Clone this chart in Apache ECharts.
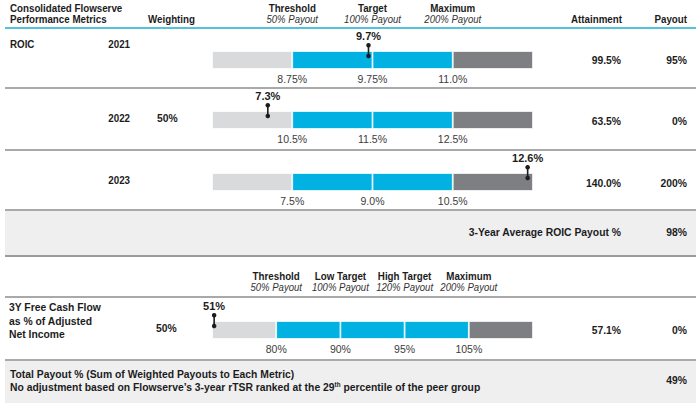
<!DOCTYPE html>
<html><head><meta charset="utf-8">
<script src="https://cdn.jsdelivr.net/npm/echarts@6/dist/echarts.min.js"></script>
<style>html,body{margin:0;padding:0;background:#fff}#c{width:700px;height:408px}</style>
</head><body><div id="c"></div>
<script>
// ---- data ----
const roicYears = ['2021', '2022', '2023'];
const roicThreshold = [8.75, 10.5, 7.5];
const roicTarget = [9.75, 11.5, 9.0];
const roicMaximum = [11.0, 12.5, 10.5];
const roicScaleMin = [7.75, 0, 6.0];
const roicScaleMax = [12.25, 13.5, 12.75];
const roicActual = [9.7, 7.3, 12.6];
const roicActualLabels = ['9.7%', '7.3%', '12.6%'];
const roicTickLabels = [['8.75%', '9.75%', '11.0%'], ['10.5%', '11.5%', '12.5%'], ['7.5%', '9.0%', '10.5%']];
const roicAttainment = ['99.5%', '63.5%', '140.0%'];
const roicPayout = ['95%', '0%', '200%'];
const roicWeighting = '50%';
const roicAvgPayout = '98%';

const fcfBreaks = [80, 90, 95, 105];
const fcfScaleMin = 50;
const fcfScaleMax = 115;
const fcfActual = 51;
const fcfActualLabel = '51%';
const fcfTickLabels = ['80%', '90%', '95%', '105%'];
const fcfAttainment = '57.1%';
const fcfPayout = '0%';
const fcfWeighting = '50%';
const totalPayout = '49%';

const roicHeaders = [['Threshold', '50% Payout'], ['Target', '100% Payout'], ['Maximum', '200% Payout']];
const fcfHeaders = [['Threshold', '50% Payout'], ['Low Target', '100% Payout'], ['High Target', '120% Payout'], ['Maximum', '200% Payout']];

// ---- layout ----
const FONT = '"Liberation Sans",Arial,Helvetica,sans-serif';
const BAR_L = 212, BAR_W = 321, BAR_H = 18;
const C_LIGHT = '#d9dadc', C_BLUE = '#00b1e2', C_DARK = '#7e7f83';
const DARK = '#1c1c1c';

function toSeg(v, bounds) {
  if (v <= bounds[0]) return 0;
  for (let i = 1; i < bounds.length; i++) {
    if (v <= bounds[i]) return (i - 1) + (v - bounds[i - 1]) / (bounds[i] - bounds[i - 1]);
  }
  return bounds.length - 1;
}

const rows = [];
const barTops = [51, 111, 173];
roicYears.forEach((y, i) => {
  rows.push({
    top: barTops[i],
    bounds: [roicScaleMin[i], roicThreshold[i], roicTarget[i], roicMaximum[i], roicScaleMax[i]],
    ticks: roicTickLabels[i],
    actual: roicActual[i], actualLabel: roicActualLabels[i]
  });
});
rows.push({
  top: 321,
  bounds: [fcfScaleMin].concat(fcfBreaks, [fcfScaleMax]),
  ticks: fcfTickLabels,
  actual: fcfActual, actualLabel: fcfActualLabel
});

const grid = [], xAxis = [], yAxis = [], series = [];
rows.forEach((r, g) => {
  const nSeg = r.bounds.length - 1;
  grid.push({ left: BAR_L, width: BAR_W, top: r.top, height: BAR_H, containLabel: false });
  xAxis.push({
    type: 'value', gridIndex: g, min: 0, max: nSeg, interval: 1,
    axisLine: { show: false }, axisTick: { show: false }, splitLine: { show: false },
    axisLabel: {
      margin: 4, fontSize: 10.5, color: '#3c3c3c', fontFamily: FONT,
      formatter: v => (v >= 1 && v <= r.ticks.length) ? r.ticks[v - 1] : ''
    }
  });
  yAxis.push({ type: 'category', gridIndex: g, data: ['bar'], show: false });
  yAxis.push({ type: 'value', gridIndex: g, min: 0, max: 1, show: false });
  for (let k = 0; k < nSeg; k++) {
    const col = k === 0 ? C_LIGHT : (k === nSeg - 1 ? C_DARK : C_BLUE);
    series.push({
      type: 'bar', xAxisIndex: g, yAxisIndex: 2 * g, stack: 's' + g,
      data: [1], barWidth: '100%', silent: true,
      itemStyle: { color: col, borderColor: '#ffffff', borderWidth: 0.8 }
    });
  }
  const p = toSeg(r.actual, r.bounds);
  series.push({
    type: 'line', xAxisIndex: g, yAxisIndex: 2 * g + 1, clip: false, z: 10,
    data: [[p, 0.72], [p, 1.32]], symbol: 'circle', symbolSize: 4.5,
    lineStyle: { color: DARK, width: 1.6 }, itemStyle: { color: DARK },
    label: {
      show: true, position: 'top', distance: 1, fontSize: 11, fontWeight: 'bold',
      fontFamily: FONT, color: DARK,
      formatter: (d) => d.dataIndex === 1 ? r.actualLabel : ''
    },
    animation: false
  });
});

// ---- table graphics ----
const gr = [];
function txt(x, y, text, o) {
  o = o || {};
  gr.push({
    type: 'text', x: x, y: y, z: 20, silent: true, scaleX: o.sx || 0.9,
    style: {
      text: text, fill: o.fill || DARK, fontSize: o.size || 11.5,
      fontWeight: o.bold ? 'bold' : 'normal', fontStyle: o.italic ? 'italic' : 'normal',
      fontFamily: FONT, align: o.align || 'left', verticalAlign: 'middle', rich: o.rich
    }
  });
}
function hline(y, color, w) {
  gr.push({ type: 'line', z: 5, silent: true, shape: { x1: 5, y1: y, x2: 696, y2: y }, style: { stroke: color, lineWidth: w } });
}
function box(y, h) {
  gr.push({ type: 'rect', z: 1, silent: true, shape: { x: 5, y: y, width: 691, height: h }, style: { fill: '#efeff0' } });
}
const H = { bold: true, sx: 0.85 };
const P = { italic: true, align: 'center', fill: '#333', size: 11, sx: 0.87 };

// header
txt(10, 8, 'Consolidated Flowserve', H);
txt(10, 19, 'Performance Metrics', H);
txt(148, 19, 'Weighting', H);
roicHeaders.forEach((h, i) => {
  const x = BAR_L + (i + 1) * BAR_W / 4;
  txt(x, 8, h[0], Object.assign({ align: 'center' }, H));
  txt(x, 19, h[1], P);
});
txt(622, 19, 'Attainment', Object.assign({ align: 'right' }, H));
txt(687, 19, 'Payout', Object.assign({ align: 'right' }, H));
hline(28, '#56c1da', 2);

// ROIC rows
const yearY = [44, 118, 180];
const valY = [60, 121, 183];
txt(10, 44, 'ROIC', H);
roicYears.forEach((y, i) => {
  txt(130, yearY[i], y, Object.assign({ align: 'right' }, H));
  txt(621, valY[i], roicAttainment[i], { bold: true, align: 'right' });
  txt(687, valY[i], roicPayout[i], { bold: true, align: 'right' });
});
txt(157, 118, roicWeighting, { bold: true });
hline(88, '#8c8c8c', 1.3);
hline(150, '#8c8c8c', 1.3);
hline(210, '#8c8c8c', 1.3);
box(211, 44);
txt(621, 232, '3-Year Average ROIC Payout %', { bold: true, align: 'right' });
txt(687, 232, roicAvgPayout, { bold: true, align: 'right' });
hline(256, '#7a7a7a', 1.5);

// FCF header
fcfHeaders.forEach((h, i) => {
  const x = BAR_L + (i + 1) * BAR_W / 5;
  txt(x, 276, h[0], Object.assign({ align: 'center' }, H));
  txt(x, 287, h[1], P);
});
hline(297, '#8c8c8c', 1.3);

// FCF row
txt(9, 307, '3Y Free Cash Flow', { bold: true });
txt(9, 321, 'as % of Adjusted', { bold: true });
txt(9, 334, 'Net Income', { bold: true });
txt(156, 328, fcfWeighting, { bold: true });
txt(621, 330, fcfAttainment, { bold: true, align: 'right' });
txt(687, 330, fcfPayout, { bold: true, align: 'right' });
hline(360, '#8c8c8c', 1.3);
box(361, 42);
txt(10, 374, 'Total Payout % (Sum of Weighted Payouts to Each Metric)', { bold: true });
txt(10, 387, '{a|No adjustment based on Flowserve\u2019s 3-year rTSR ranked at the 29}{s|th}{a| percentile of the peer group}', {
  bold: true,
  rich: {
    a: { fontSize: 11.5, fontWeight: 'bold', fontFamily: FONT, fill: DARK },
    s: { fontSize: 7, fontWeight: 'bold', fontFamily: FONT, fill: DARK, padding: [0, 0, 6, 0] }
  }
});
txt(687, 380, totalPayout, { bold: true, align: 'right' });

const chart = echarts.init(document.getElementById('c'), null, { renderer: 'svg' });
chart.setOption({
  animation: false,
  backgroundColor: '#ffffff',
  grid: grid, xAxis: xAxis, yAxis: yAxis, series: series,
  graphic: gr
});
</script></body></html>
